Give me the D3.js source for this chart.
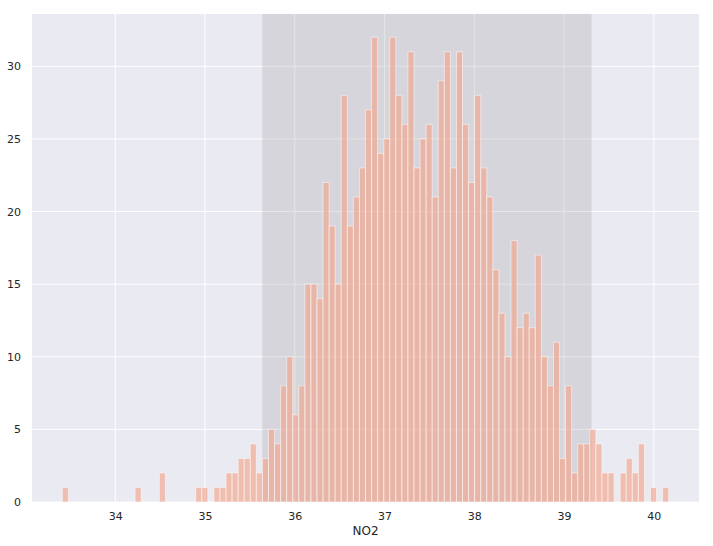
<!DOCTYPE html>
<html>
<head>
<meta charset="utf-8">
<script src="https://cdn.jsdelivr.net/npm/d3@7"></script>
<style>
  html, body { margin: 0; padding: 0; background: #fff; }
  svg text { font-family: "DejaVu Sans", sans-serif; fill: #262626; }
</style>
</head>
<body>
<svg id="chart" width="713" height="546"></svg>
<script>
// ---- data ----
const binStart = 33.41;
const binEnd = 40.165;
const counts = [
  1,0,0,0,0,0,0,0,0,0,
  0,0,1,0,0,0,2,0,0,0,
  0,0,1,1,0,1,1,2,2,3,
  3,4,2,3,5,4,8,10,6,8,
  15,15,14,22,19,15,28,19,21,23,
  27,32,24,25,32,28,26,31,23,25,
  26,21,29,31,23,31,26,22,28,23,
  21,16,13,10,18,12,13,12,17,10,
  8,11,3,8,2,4,4,5,4,2,
  2,0,2,3,2,4,0,1,0,1
];
const spanRange = [35.637, 39.306];
const xTicks = [34, 35, 36, 37, 38, 39, 40];
const yTicks = [0, 5, 10, 15, 20, 25, 30];
const xLabel = "NO2";

(function () {
// ---- layout ----
const svg = d3.select("#chart");
const pLeft = 32, pRight = 699, pTop = 14, pBottom = 502;

const nBins = counts.length;
const bw = (binEnd - binStart) / nBins;
const bins = counts.map((c, i) => ({ x0: binStart + i * bw, x1: binStart + (i + 1) * bw, c }));

const span = binEnd - binStart;
const x = d3.scaleLinear()
  .domain([binStart - 0.05 * span, binEnd + 0.05 * span])
  .range([pLeft, pRight]);
const y = d3.scaleLinear()
  .domain([0, d3.max(counts) * 1.05])
  .range([pBottom, pTop]);

// background
svg.append("rect")
  .attr("x", pLeft).attr("y", pTop)
  .attr("width", pRight - pLeft).attr("height", pBottom - pTop)
  .attr("fill", "#eaeaf2");

// grid
const grid = svg.append("g");
grid.selectAll("line.v").data(xTicks).enter().append("line")
  .attr("x1", d => x(d)).attr("x2", d => x(d))
  .attr("y1", pTop).attr("y2", pBottom)
  .attr("stroke", "#fff").attr("stroke-width", 1);
grid.selectAll("line.h").data(yTicks).enter().append("line")
  .attr("x1", pLeft).attr("x2", pRight)
  .attr("y1", d => y(d)).attr("y2", d => y(d))
  .attr("stroke", "#fff").attr("stroke-width", 1);

// shaded span
svg.append("rect")
  .attr("x", x(spanRange[0])).attr("y", pTop)
  .attr("width", x(spanRange[1]) - x(spanRange[0]))
  .attr("height", pBottom - pTop)
  .attr("fill", "#808080").attr("fill-opacity", 0.2);

// bars
svg.append("g").selectAll("rect").data(bins.filter(b => b.c > 0)).enter().append("rect")
  .attr("x", d => x(d.x0))
  .attr("width", d => x(d.x1) - x(d.x0))
  .attr("y", d => y(d.c))
  .attr("height", d => y(0) - y(d.c))
  .attr("fill", "#f2a68d")
  .attr("fill-opacity", 0.65)
  .attr("stroke", "#ffffff")
  .attr("stroke-opacity", 0.5)
  .attr("stroke-width", 1);

// axes
const xAxis = d3.axisBottom(x).tickValues(xTicks).tickSize(0).tickPadding(10).tickFormat(d3.format("d"));
const gx = svg.append("g").attr("transform", `translate(0,${pBottom})`).call(xAxis);
gx.select(".domain").remove();
gx.selectAll("text").attr("font-size", 11).style("fill", "#262626");

const yAxis = d3.axisLeft(y).tickValues(yTicks).tickSize(0).tickPadding(11).tickFormat(d3.format("d"));
const gy = svg.append("g").attr("transform", `translate(${pLeft},0)`).call(yAxis);
gy.select(".domain").remove();
gy.selectAll("text").attr("font-size", 11).style("fill", "#262626");

svg.append("text")
  .attr("x", (pLeft + pRight) / 2)
  .attr("y", 535)
  .attr("text-anchor", "middle")
  .attr("font-size", 12)
  .text(xLabel);
})();
</script>
</body>
</html>
